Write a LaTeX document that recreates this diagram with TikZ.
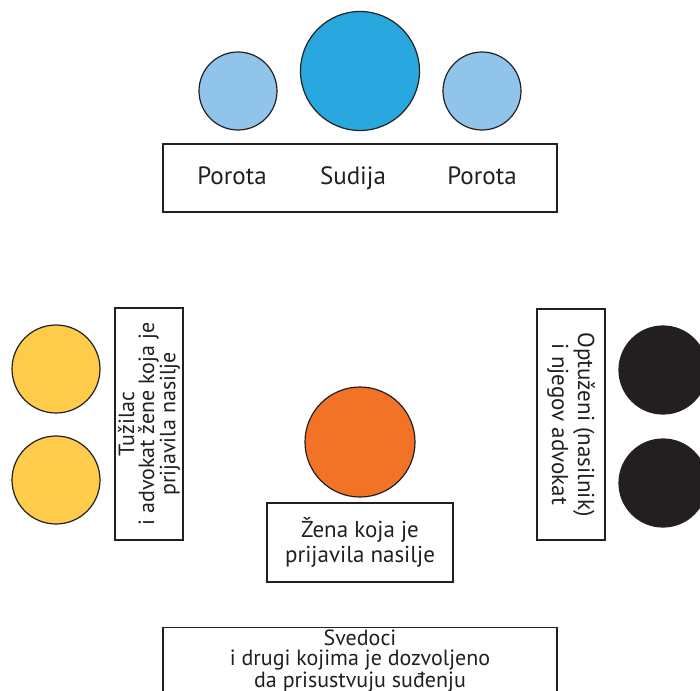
\documentclass[tikz,border=0pt]{standalone}
\usepackage{fontspec}
\setmainfont{PT Sans}
\usepackage{tikz}
\usetikzlibrary{calc,positioning}
\definecolor{ink}{RGB}{35,31,32}
\definecolor{juryblue}{RGB}{145,196,235}
\definecolor{judgeblue}{RGB}{41,168,224}
\definecolor{prosyellow}{RGB}{254,203,74}
\definecolor{womanorange}{RGB}{243,115,38}
\tikzstyle{seat}=[circle,draw=ink,line width=1.2pt,inner sep=0pt]
\tikzstyle{bench}=[rectangle,draw=ink,line width=1.2pt,inner sep=0pt,text=ink,align=center]
\tikzstyle{seatlabel}=[text=ink,inner sep=0pt,align=center]
\newcommand*{\bigtxt}{\fontsize{25}{25}\selectfont}
\newcommand*{\midtxt}{\fontsize{23}{25}\selectfont}
\newcommand*{\smalltxt}{\fontsize{22}{20}\selectfont}

\begin{document}
\begin{tikzpicture}[x=1pt,y=-1pt]
            \useasboundingbox (0,0) rectangle (700,690);
            \clip (0,0) rectangle (700,690);
            \def\rjury{78pt}
            \def\rside{88pt}
            % judge and jury
            \node[seat,fill=judgeblue,minimum size=119pt] (judge) at (360,71) {};
            \node[seat,fill=juryblue,minimum size=\rjury] (juryL) at (238,91) {};
            \node[seat,fill=juryblue,minimum size=\rjury] (juryR) at (482,91) {};
            \node[bench,minimum width=394pt,minimum height=68pt] (bench) at (360,178) {};
            \node[seatlabel,font=\bigtxt,anchor=base] (juryLtxt) at (232,184) {Porota};
            \node[seatlabel,font=\bigtxt,anchor=base] (judgetxt) at (353,184) {Sudija};
            \node[seatlabel,font=\bigtxt,anchor=base] (juryRtxt) at (482,184) {Porota};
            % prosecution
            \node[seat,fill=prosyellow,minimum size=\rside] (prosA) at (56,369) {};
            \node[seat,fill=prosyellow,minimum size=\rside] (prosB) at (56,480) {};
            \node[bench,font=\smalltxt,rotate=90,minimum width=232pt,minimum height=68pt] (prosbox) at (149,424)
                {Tužilac\\i advokat žene koja je\\prijavila nasilje};
            % defence
            \node[seat,fill=ink,minimum size=\rside] (defA) at (663,370) {};
            \node[seat,fill=ink,minimum size=\rside] (defB) at (663,483) {};
            \node[bench,font=\fontsize{23}{26}\selectfont,rotate=-90,minimum width=231pt,minimum height=68pt] (defbox) at (571,424.5)
                {Optuženi (nasilnik)\\i njegov advokat};
            % victim
            \node[seat,fill=womanorange,minimum size=110pt] (woman) at (360,442) {};
            \node[bench,font=\midtxt,minimum width=186pt,minimum height=79pt] (womanbox) at (360,542.5)
                {Žena koja je\\prijavila nasilje};
            % witnesses
            \node[bench,minimum width=394pt,minimum height=90pt,anchor=north] (witnessbox) at (360,627) {};
            \node[seatlabel,font=\smalltxt] (witnesstxt) at (360,661)
                {Svedoci\\i drugi kojima je dozvoljeno\\da prisustvuju suđenju};
\end{tikzpicture}
\end{document}
